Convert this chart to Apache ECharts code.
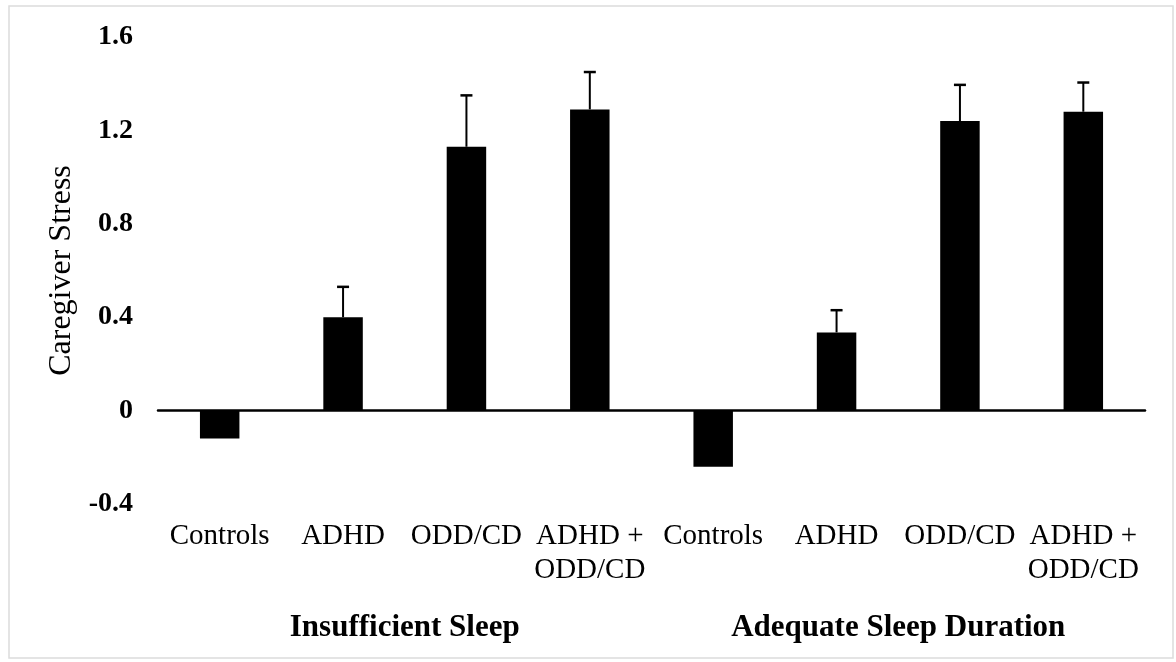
<!DOCTYPE html>
<html>
<head>
<meta charset="utf-8">
<script src="https://cdn.jsdelivr.net/npm/echarts@6/dist/echarts.min.js"></script>
<style>
  html, body { margin: 0; padding: 0; background: #fff; }
  #main { width: 1176px; height: 662px; }
</style>
</head>
<body>
<div id="main"></div>
<script>
// group / category labels
var groups = ['Insufficient Sleep', 'Adequate Sleep Duration'];
var categories = ['Controls', 'ADHD', 'ODD/CD', 'ADHD +\nODD/CD',
                  'Controls', 'ADHD', 'ODD/CD', 'ADHD +\nODD/CD'];
// mean caregiver stress
var means = [-0.12, 0.40, 1.13, 1.29, -0.24, 0.335, 1.24, 1.28];
// upper error (null = none shown)
var errors = [null, 0.13, 0.22, 0.16, null, 0.095, 0.155, 0.125];
var yTicks = { min: -0.4, max: 1.6, step: 0.4 };

var serif = 'Liberation Serif';

var chart = echarts.init(document.getElementById('main'));

var errData = [];
means.forEach(function (m, i) {
    if (errors[i] != null) errData.push([i, m, m + errors[i]]);
});

var option = {
    backgroundColor: '#fff',
    animation: false,
    graphic: [{
        type: 'rect',
        shape: { x: 9, y: 6, width: 1164, height: 652 },
        style: { fill: 'none', stroke: '#dcdcdc', lineWidth: 1.5 },
        silent: true
    }],
    grid: { left: 158, right: 31, top: 37, bottom: 158 },
    xAxis: [{
        // zero line
        type: 'category',
        data: categories,
        axisLine: { show: true, onZero: true, lineStyle: { color: '#000', width: 2.5 } },
        axisTick: { show: false },
        axisLabel: { show: false }
    }, {
        // category labels at bottom
        type: 'category',
        data: categories,
        position: 'bottom',
        axisLine: { show: false, onZero: false },
        axisTick: { show: false },
        axisLabel: {
            interval: 0,
            margin: 15,
            fontFamily: serif,
            fontSize: 29,
            lineHeight: 34,
            color: '#000'
        }
    }, {
        // group labels
        type: 'category',
        data: groups,
        position: 'bottom',
        offset: 93,
        axisLine: { show: false, onZero: false },
        axisTick: { show: false },
        axisLabel: {
            interval: 0,
            margin: 14,
            fontFamily: serif,
            fontWeight: 'bold',
            fontSize: 31,
            lineHeight: 34,
            color: '#000'
        }
    }],
    yAxis: {
        type: 'value',
        min: yTicks.min,
        max: yTicks.max,
        interval: yTicks.step,
        name: 'Caregiver Stress',
        nameLocation: 'middle',
        nameRotate: 90,
        nameGap: 77,
        nameTextStyle: { fontFamily: serif, fontSize: 32, color: '#000' },
        axisLine: { show: false },
        axisTick: { show: false },
        splitLine: { show: false },
        axisLabel: {
            margin: 25,
            fontFamily: serif,
            fontWeight: 'bold',
            fontSize: 28,
            color: '#000',
            formatter: function (v) { return String(+v.toFixed(1)); }
        }
    },
    series: [{
        type: 'bar',
        data: means,
        barWidth: '32%',
        itemStyle: { color: '#000' },
        z: 2
    }, {
        type: 'custom',
        data: errData,
        z: 3,
        renderItem: function (params, api) {
            var x = api.value(0);
            var lo = api.coord([x, api.value(1)]);
            var hi = api.coord([x, api.value(2)]);
            var cap = 6;
            return {
                type: 'group',
                children: [{
                    type: 'line',
                    shape: { x1: lo[0], y1: lo[1], x2: hi[0], y2: hi[1] },
                    style: { stroke: '#000', lineWidth: 2 }
                }, {
                    type: 'line',
                    shape: { x1: hi[0] - cap, y1: hi[1], x2: hi[0] + cap, y2: hi[1] },
                    style: { stroke: '#000', lineWidth: 2.5 }
                }]
            };
        }
    }]
};

chart.setOption(option);
</script>
</body>
</html>
